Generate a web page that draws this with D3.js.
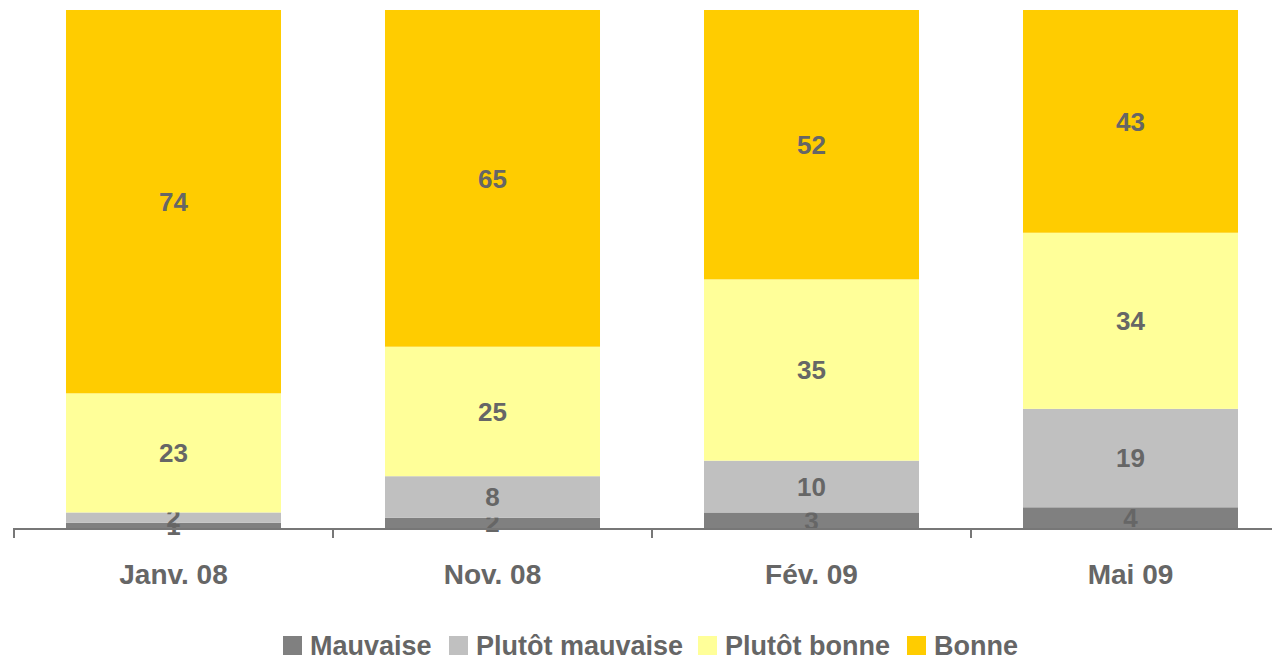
<!DOCTYPE html>
<html>
<head>
<meta charset="utf-8">
<script src="https://cdn.jsdelivr.net/npm/d3@7"></script>
<style>
  body { margin: 0; background: #fff; }
  text { font-family: "Liberation Sans", Arial, sans-serif; font-weight: bold; fill: #666666; }
</style>
</head>
<body>
<div id="chart"></div>
<script>
var categories = ["Janv. 08", "Nov. 08", "Fév. 09", "Mai 09"];
var series = ["Mauvaise", "Plutôt mauvaise", "Plutôt bonne", "Bonne"];
var mauvaise = [1, 2, 3, 4];
var plutotMauvaise = [2, 8, 10, 19];
var plutotBonne = [23, 25, 35, 34];
var bonne = [74, 65, 52, 43];
var colors = ["#808080", "#c0c0c0", "#ffff99", "#ffcc00"];

var width = 1272, height = 659;

var svg = d3.select("#chart").append("svg")
	.attr("width", width)
	.attr("height", height);

var rows = categories.map(function (c, i) {
	return { cat: c, "Mauvaise": mauvaise[i], "Plutôt mauvaise": plutotMauvaise[i],
		"Plutôt bonne": plutotBonne[i], "Bonne": bonne[i] };
});
var stacked = d3.stack().keys(series)(rows);

var x = d3.scaleBand().domain(categories).range([14, 1290])
	.paddingInner(0.326).paddingOuter(0.163);
var xTick = d3.scaleBand().domain(categories).range([14, 1290]).padding(0);
var y = d3.scaleLinear().domain([0, 100]).range([528, 10]);

var color = d3.scaleOrdinal().domain(series).range(colors);

// bars
var layer = svg.selectAll("g.layer").data(stacked).enter().append("g")
	.attr("class", "layer").attr("fill", function (d) { return color(d.key); });

layer.selectAll("rect").data(function (d) { return d; }).enter().append("rect")
	.attr("x", function (d) { return x(d.data.cat); })
	.attr("width", x.bandwidth())
	.attr("y", function (d) { return y(d[1]); })
	.attr("height", function (d) { return y(d[0]) - y(d[1]); });

// axis
svg.append("line").attr("x1", 13).attr("x2", width).attr("y1", 529).attr("y2", 529)
	.attr("stroke", "#777").attr("stroke-width", 2);
var tickPos = categories.map(function (c) { return xTick(c); }).concat([xTick.range()[1]]);
svg.selectAll("line.tick").data(tickPos).enter().append("line")
	.attr("class", "tick")
	.attr("x1", function (d) { return d; }).attr("x2", function (d) { return d; })
	.attr("y1", 529).attr("y2", 538)
	.attr("stroke", "#777").attr("stroke-width", 2);

// value labels
layer.selectAll("text").data(function (d) { return d; }).enter().append("text")
	.attr("x", function (d) { return x(d.data.cat) + x.bandwidth() / 2; })
	.attr("y", function (d) { return (y(d[0]) + y(d[1])) / 2; })
	.attr("dy", "0.36em")
	.attr("text-anchor", "middle")
	.style("font-size", "26px")
	.text(function (d) { return d[1] - d[0]; });

// category labels
svg.selectAll("text.cat").data(categories).enter().append("text")
	.attr("class", "cat")
	.attr("x", function (d) { return xTick(d) + xTick.bandwidth() / 2; })
	.attr("y", 584)
	.attr("text-anchor", "middle")
	.style("font-size", "28px")
	.text(function (d) { return d; });

// legend
var legendX = [283, 449, 698, 907];
var legend = svg.selectAll("g.legend").data(series).enter().append("g")
	.attr("class", "legend")
	.attr("transform", function (d, i) { return "translate(" + legendX[i] + ",636)"; });
legend.append("rect").attr("width", 19).attr("height", 19)
	.attr("fill", function (d) { return color(d); });
legend.append("text").attr("x", 27).attr("y", 18.5)
	.style("font-size", "27px")
	.text(function (d) { return d; });
</script>
</body>
</html>
